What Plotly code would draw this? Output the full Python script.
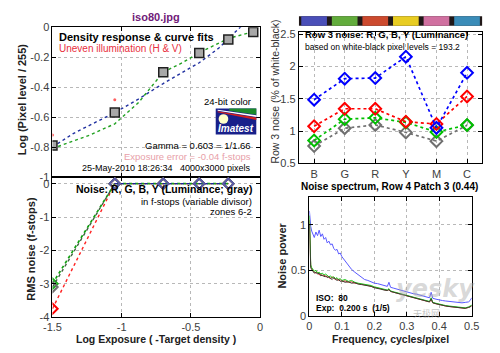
import plotly.graph_objects as go

FONT = "Liberation Sans, Arial, sans-serif"
W, H = 500, 353

# ---------------- data ----------------
# Density response (top-left)
dens_x = [-1.5, -1.05, -0.70, -0.44, -0.23, -0.05]
dens_y = [-0.79, -0.57, -0.30, -0.172, -0.082, -0.032]
fit_blue_x = [-1.5, -1.35, -1.05, -0.88, -0.70, -0.44, -0.30, -0.15, -0.10]
fit_blue_y = [-0.80, -0.71, -0.57, -0.48, -0.376, -0.237, -0.14, 0.0, 0.04]
fit_green_x = [-1.5, -1.23, -1.05, -0.88, -0.70, -0.56, -0.44, -0.23, -0.05]
fit_green_y = [-0.81, -0.72, -0.645, -0.505, -0.30, -0.236, -0.17, -0.075, -0.03]
uneven_x = [-1.5, -1.05, -0.44]
uneven_y = [-0.72, -0.484, -0.19]

# Noise in f-stops (bottom-left)
noise_x = [-1.5, -1.05, -0.70, -0.44, -0.23]
noise_r = [-3.75, 0, 0, 0, 0]
noise_g = [-3.0, 0, 0, 0, 0]
noise_lum = [-3.1, 0, 0, 0, 0]
noise_b = [None, 0, 0, 0, 0]

# Row 3 noise (top-right)
cats = ['B', 'G', 'R', 'Y', 'M', 'C']
row3_b = [1.485, 1.81, 1.82, 2.15, 1.05, 1.90]
row3_r = [1.075, 1.345, 1.345, 1.145, 1.11, 1.535]
row3_g = [0.855, 1.185, 1.205, 1.135, 0.985, 1.095]
row3_lum = [0.77, 1.045, 1.095, 0.98, 0.845, 1.09]
patch_colors = ['#4a4fb8', '#62ac3c', '#cc4a2e', '#e8cc22', '#d070a0', '#3a8cb8']

# Noise spectrum (bottom-right)
freq = [0, 0.002, 0.004, 0.007, 0.01, 0.015, 0.02, 0.025, 0.03, 0.035,
        0.04, 0.045, 0.05, 0.055, 0.06, 0.065, 0.07, 0.075, 0.08, 0.085,
        0.09, 0.095, 0.1, 0.11, 0.12, 0.13, 0.14, 0.15, 0.16, 0.17,
        0.18, 0.19, 0.2, 0.21, 0.22, 0.23, 0.24, 0.245, 0.25, 0.26,
        0.27, 0.28, 0.29, 0.3, 0.31, 0.32, 0.33, 0.34, 0.35, 0.36,
        0.37, 0.375, 0.38, 0.39, 0.4, 0.41, 0.42, 0.43, 0.44, 0.45,
        0.46, 0.47, 0.48, 0.49, 0.495, 0.5]
spec_b = [1.15, 1.05, 0.98, 0.93, 0.90, 0.86, 0.92, 0.88, 0.94, 0.87,
          0.90, 0.84, 0.86, 0.80, 0.82, 0.78, 0.79, 0.74, 0.72, 0.73,
          0.68, 0.69, 0.65, 0.60, 0.55, 0.51, 0.48, 0.45, 0.42, 0.40,
          0.39, 0.375, 0.36, 0.355, 0.345, 0.335, 0.325, 0.37, 0.315, 0.305,
          0.295, 0.285, 0.275, 0.26, 0.255, 0.245, 0.24, 0.23, 0.22, 0.21,
          0.20, 0.26, 0.195, 0.185, 0.175, 0.17, 0.165, 0.16, 0.155, 0.15,
          0.15, 0.145, 0.15, 0.155, 0.17, 0.20]
spec_r = [1.05, 0.58, 0.54, 0.52, 0.50, 0.48, 0.47, 0.48, 0.45, 0.46,
          0.44, 0.45, 0.43, 0.44, 0.42, 0.41, 0.43, 0.41, 0.40, 0.41,
          0.39, 0.40, 0.38, 0.385, 0.37, 0.375, 0.36, 0.355, 0.35, 0.34,
          0.335, 0.325, 0.315, 0.305, 0.295, 0.29, 0.28, 0.29, 0.27, 0.26,
          0.25, 0.24, 0.23, 0.22, 0.21, 0.20, 0.19, 0.18, 0.17, 0.16,
          0.155, 0.18, 0.145, 0.135, 0.125, 0.12, 0.11, 0.105, 0.10, 0.095,
          0.09, 0.085, 0.085, 0.095, 0.10, 0.11]
spec_g = [1.10, 0.62, 0.56, 0.53, 0.51, 0.49, 0.50, 0.47, 0.48, 0.46,
          0.47, 0.45, 0.46, 0.44, 0.43, 0.44, 0.42, 0.43, 0.41, 0.42,
          0.40, 0.41, 0.39, 0.40, 0.38, 0.39, 0.37, 0.36, 0.355, 0.35,
          0.34, 0.335, 0.32, 0.31, 0.30, 0.295, 0.285, 0.30, 0.275, 0.265,
          0.255, 0.245, 0.235, 0.225, 0.215, 0.205, 0.195, 0.185, 0.175, 0.165,
          0.16, 0.20, 0.15, 0.14, 0.13, 0.125, 0.115, 0.11, 0.105, 0.10,
          0.095, 0.09, 0.09, 0.10, 0.11, 0.12]
spec_lum = [1.00, 0.56, 0.53, 0.51, 0.49, 0.47, 0.48, 0.46, 0.47, 0.44,
            0.45, 0.43, 0.44, 0.42, 0.43, 0.41, 0.40, 0.42, 0.40, 0.39,
            0.40, 0.38, 0.385, 0.37, 0.375, 0.36, 0.365, 0.35, 0.345, 0.34,
            0.33, 0.325, 0.31, 0.305, 0.295, 0.285, 0.28, 0.29, 0.27, 0.26,
            0.25, 0.24, 0.23, 0.22, 0.21, 0.20, 0.19, 0.18, 0.17, 0.16,
            0.155, 0.19, 0.145, 0.135, 0.125, 0.12, 0.11, 0.105, 0.10, 0.095,
            0.09, 0.085, 0.085, 0.095, 0.10, 0.115]

# ---------------- helpers ----------------
def px(x, y):
    return x / W, 1 - y / H

fig = go.Figure()

def dmark(c, s=9):
    return dict(symbol='diamond-open', size=s, color=c, line=dict(width=2))

LW = 1.4
# top-left
fig.add_trace(go.Scatter(x=fit_blue_x, y=fit_blue_y, mode='lines', line=dict(color='#2030a0', dash='dot', width=LW), xaxis='x', yaxis='y'))
fig.add_trace(go.Scatter(x=fit_green_x, y=fit_green_y, mode='lines', line=dict(color='#20a020', dash='dot', width=LW), xaxis='x', yaxis='y'))
fig.add_trace(go.Scatter(x=uneven_x, y=uneven_y, mode='markers', marker=dict(symbol='circle', size=3, color='#ff6060'), xaxis='x', yaxis='y'))
fig.add_trace(go.Scatter(x=dens_x, y=dens_y, mode='markers', marker=dict(symbol='square', size=9, color='#a8a8a8', line=dict(color='#202020', width=1.5)), xaxis='x', yaxis='y'))

# bottom-left
fig.add_trace(go.Scatter(x=noise_x, y=noise_r, mode='lines+markers', line=dict(color='#ff2020', dash='dot', width=LW), marker=dmark('#ff0000', 8), xaxis='x2', yaxis='y2'))
fig.add_trace(go.Scatter(x=noise_x, y=noise_g, mode='lines+markers', line=dict(color='#10a010', dash='dot', width=1.7), marker=dmark('#20b020', 8), xaxis='x2', yaxis='y2'))
fig.add_trace(go.Scatter(x=noise_x, y=noise_lum, mode='lines+markers', line=dict(color='#406040', dash='dot', width=LW), marker=dmark('#707070', 8), xaxis='x2', yaxis='y2'))
fig.add_trace(go.Scatter(x=noise_x, y=noise_b, mode='lines+markers', line=dict(color='#2020a0', dash='dot', width=LW), marker=dmark('#5a5aa8', 8), xaxis='x2', yaxis='y2'))

# top-right
idx = list(range(len(cats)))
for vals, c in [(row3_lum, '#707070'), (row3_g, '#00c000'), (row3_r, '#ff0000'), (row3_b, '#0000ff')]:
    fig.add_trace(go.Scatter(x=idx, y=vals, mode='lines+markers', line=dict(color=c, dash='dot', width=1.7),
                             marker=dmark(c, 9), xaxis='x3', yaxis='y3'))

# bottom-right
for vals, c in [(spec_b, '#5a5aff'), (spec_r, '#dd3030'), (spec_g, '#20cc20'), (spec_lum, '#3a3a30')]:
    fig.add_trace(go.Scatter(x=freq, y=vals, mode='lines', line=dict(color=c, width=1), xaxis='x4', yaxis='y4'))

# ---------------- axes ----------------
tickfont = dict(family=FONT, size=11, color='#404040')
base = dict(showline=True, linecolor='black', linewidth=1, mirror='ticks', ticks='inside', ticklen=4,
            tickcolor='black', showgrid=True, gridcolor='#b8b8b8', griddash='dot', gridwidth=1,
            zeroline=False, tickfont=tickfont, fixedrange=True)

d_tl_x = [45 / W, 260 / W]
d_tl_y = [1 - 177 / H, 1 - 22 / H]
d_bl_y = [1 - 322 / H, 1 - 177 / H]
d_tr_x = [300 / W, 490 / W]
d_tr_y = [1 - 163 / H, 1 - 27 / H]
d_br_x = [311 / W, 479 / W]
d_br_y = [1 - 321 / H, 1 - 198 / H]

xt = [-1.5, -1, -0.5, 0]
xtt = ['-1.5', '-1', '-0.5', '0']
fig.update_layout(
    xaxis=dict(base, domain=d_tl_x, anchor='y', range=[-1.5, 0], tickvals=xt, ticktext=xtt, showticklabels=False),
    yaxis=dict(base, domain=d_tl_y, anchor='x', range=[-1, 0], tickvals=[0, -0.2, -0.4, -0.6, -0.8, -1],
               ticktext=['0', '-0.2', '-0.4', '-0.6', '-0.8', '-1']),
    xaxis2=dict(base, domain=d_tl_x, anchor='y2', range=[-1.5, 0], tickvals=xt, ticktext=xtt),
    yaxis2=dict(base, domain=d_bl_y, anchor='x2', range=[-4, 0.2], tickvals=[0, -1, -2, -3, -4],
                ticktext=['0', '-1', '-2', '-3', '-4']),
    xaxis3=dict(base, domain=d_tr_x, anchor='y3', range=[-0.5, 5.5], tickvals=idx, ticktext=cats),
    yaxis3=dict(base, domain=d_tr_y, anchor='x3', range=[0.5, 2.53], tickvals=[0.5, 1, 1.5, 2, 2.5],
                ticktext=['0.5', '1', '1.5', '2', '2.5']),
    xaxis4=dict(base, domain=d_br_x, anchor='y4', range=[0, 0.5], tickvals=[0, 0.1, 0.2, 0.3, 0.4, 0.5],
                ticktext=['0', '0.1', '0.2', '0.3', '0.4', '0.5']),
    yaxis4=dict(base, domain=d_br_y, anchor='x4', range=[0, 1.3], tickvals=[0, 0.5, 1],
                ticktext=['0', '0.5', '1']),
)

# ---------------- annotations ----------------
ann = []
def txt(s, x, y, size=10, color='black', bold=False, xanchor='left', angle=0, italic=False, family=FONT):
    X, Y = px(x, y)
    if bold:
        s = '<b>' + s + '</b>'
    if italic:
        s = '<i>' + s + '</i>'
    ann.append(dict(text=s, x=X, y=Y, xref='paper', yref='paper', xanchor=xanchor, yanchor='middle',
                    showarrow=False, textangle=angle, font=dict(family=family, size=size, color=color)))

txt('iso80.jpg', 152, 11, 11, '#701a78', True, 'center')
txt('Density response &amp; curve fits', 50, 32, 11, 'black', True)
txt('Uneven illumination (H &amp; V)', 50, 44, 10, '#e83040')
txt('24-bit color', 253, 99, 9.5, 'black', False, 'right')
txt('Gamma = 0.603 = 1/1.66', 253, 144, 9.5, 'black', False, 'right')
txt('Exposure error = -0.04 f-stops', 253, 156, 9.5, '#e8a0a8', False, 'right')
txt('25-May-2010 18:26:34   4000x3000 pixels', 253, 168, 9, 'black', False, 'right')
txt('Log (Pixel level / 255)', 13, 97, 11, '#202020', True, 'center', -90)

txt('Noise: R, G, B, Y (Luminance; gray)', 254, 189, 10.5, 'black', True, 'right')
txt('in f-stops (variable divisor)', 254, 202, 9.5, 'black', False, 'right')
txt('zones 6-2', 254, 213, 9.5, 'black', False, 'right')
txt('RMS noise (f-stops)', 23, 251, 11, '#202020', True, 'center', -90)
txt('Log Exposure ( -Target density )', 152, 345, 10.5, '#202020', True, 'center')

txt('Row 3 noise: R, G, B, Y (Luminance)', 304, 30, 9.5, 'black', True)
txt('based on white-black pixel levels = 193.2', 304, 42, 8.5, 'black')
txt('Row 3 noise (% of white-black)', 275, 89, 10.5, '#303030', False, 'center', -90)

txt('Noise spectrum, Row 4 Patch 3 (0.44)', 394, 187, 10, 'black', True, 'center')
txt('Noise power', 283, 258, 11, '#202020', True, 'center', -90)
txt('Frequency, cycles/pixel', 395, 345, 10.5, '#202020', True, 'center')
txt('ISO:  80', 316, 302, 8.5, 'black', True)
txt('Exp:  0.200 s  (1/5)', 316, 313, 8.5, 'black', True)

# watermark (kept clear of the other texts)
txt('yesky', 442, 293, 24, 'rgba(170,170,170,0.45)', True, 'center', 0, True, 'DejaVu Sans, sans-serif')
txt('天极网', 432, 318, 9, 'rgba(160,160,160,0.6)', False, 'center', 0, False, 'Noto Sans CJK SC')

# Imatest logo text
txt('Imatest', 235, 127, 10, 'white', True, 'center', 0, True)

fig.update_layout(annotations=ann)

# ---------------- shapes ----------------
shapes = []
y0p, y1p = 1 - 20.5 / H, 1 - 10.5 / H
shapes.append(dict(type='rect', xref='x3', yref='paper', x0=-0.5, x1=5.5, y0=y0p, y1=y1p,
                   fillcolor='#201818', line=dict(width=0), layer='above'))
for i, c in enumerate(patch_colors):
    shapes.append(dict(type='rect', xref='x3', yref='paper', x0=i - 0.42, x1=i + 0.42, y0=y0p, y1=y1p,
                       fillcolor=c, line=dict(width=0), layer='above'))

def ppath(points):
    s = ''
    for k, (x, y) in enumerate(points):
        X, Y = px(x, y)
        s += ('M' if k == 0 else 'L') + f'{X:.5f},{Y:.5f} '
    return s + 'Z'

# Imatest logo
shapes.append(dict(type='path', xref='paper', yref='paper', path=ppath([(214, 106), (256, 106), (256, 133), (214, 133)]),
                   fillcolor='#18208a', line=dict(width=0), layer='above'))
shapes.append(dict(type='path', xref='paper', yref='paper', path=ppath([(228, 106), (256, 106), (256, 112.5), (228, 108.5)]),
                   fillcolor='#1a8a2a', line=dict(width=0), layer='above'))
shapes.append(dict(type='path', xref='paper', yref='paper', path=ppath([(216, 107.5), (256, 113), (256, 115), (216, 108.5)]),
                   fillcolor='#ffffff', line=dict(width=0), layer='above'))
shapes.append(dict(type='path', xref='paper', yref='paper', path=ppath([(216, 109), (256, 115.5), (256, 118), (216, 110)]),
                   fillcolor='#d02020', line=dict(width=0), layer='above'))
cx0, cy0 = px(217, 112)
cx1, cy1 = px(227, 122)
shapes.append(dict(type='circle', xref='paper', yref='paper', x0=cx0, x1=cx1, y0=cy1, y1=cy0,
                   fillcolor='#ffffc8', line=dict(width=0), layer='above'))

fig.update_layout(shapes=shapes)

fig.update_layout(width=W, height=H, margin=dict(l=0, r=0, t=0, b=0), showlegend=False,
                  paper_bgcolor='white', plot_bgcolor='white', font=dict(family=FONT))

fig.write_html('out.html')
